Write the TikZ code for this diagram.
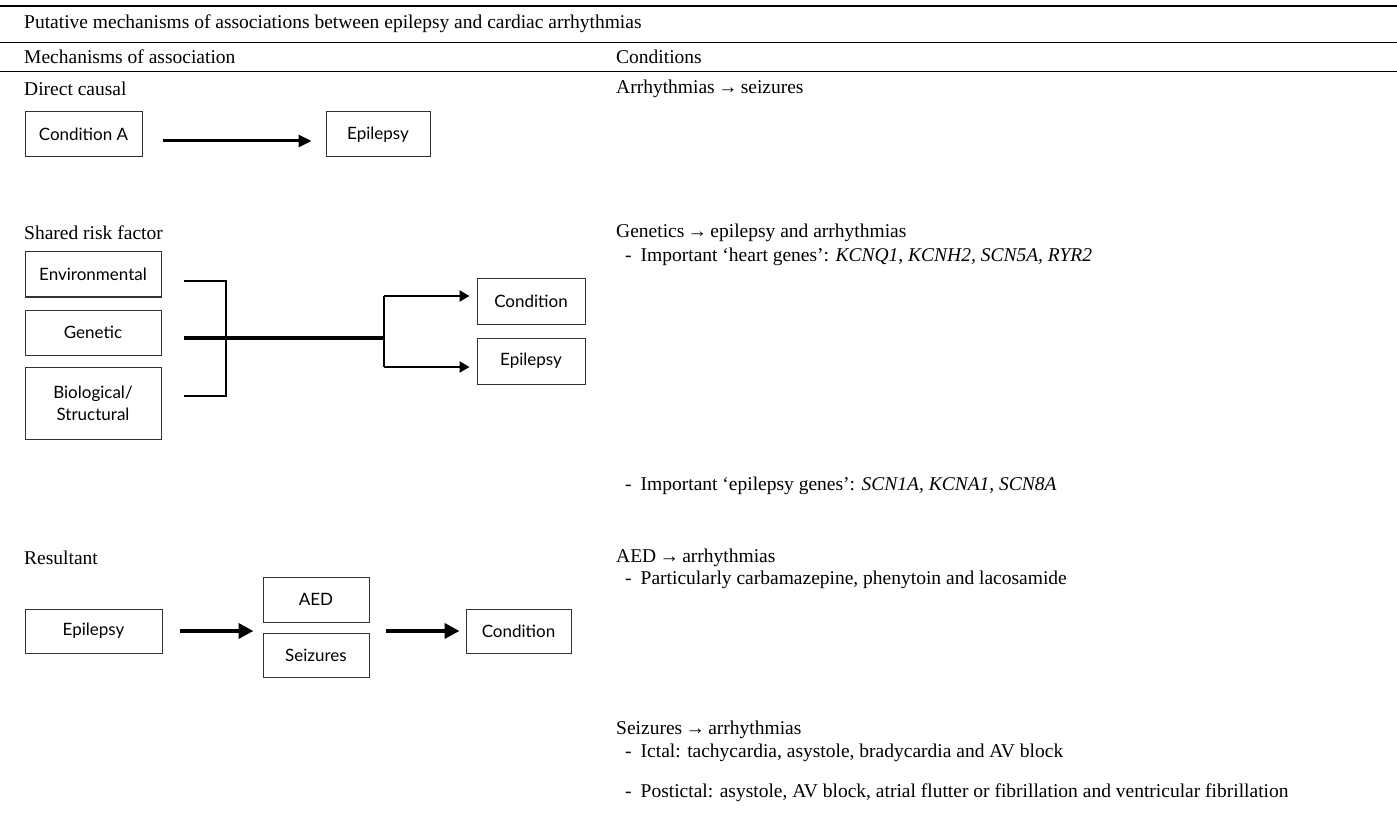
\documentclass[tikz,border=0pt]{standalone}
\usepackage{fontspec}
\setmainfont{Liberation Serif}
\newfontfamily\boxfont{Lato}
\usetikzlibrary{arrows.meta}
\begin{document}
\begin{tikzpicture}[x=1pt,y=-1pt,
  txt/.style={anchor=west,inner sep=0pt,font=\fontsize{19.5}{22}\selectfont},
  box/.style={draw=black!80,line width=1pt,inner sep=0pt,align=center,font=\boxfont\fontsize{17}{22}\selectfont},
  rule/.style={line width=1.4pt},
  arrA/.style={line width=3pt,-{Triangle[length=13pt,width=12pt]}},
  arrB/.style={line width=4pt,-{Triangle[length=15pt,width=15pt]}},
  arrC/.style={line width=2.4pt,-{Triangle[length=10pt,width=11pt]}},
  brk/.style={line width=2.7pt},
  trunk/.style={line width=4pt}]
\useasboundingbox (0,0) rectangle (1397,826);
\fill[white] (0,0) rectangle (1397,826);
% rules
\draw[line width=2pt] (0,6) -- (1397,6);
\draw[rule] (0,42.5) -- (1397,42.5);
\draw[rule] (0,71.5) -- (1397,71.5);
% header texts
\node[txt] (title) at (24,24) {Putative mechanisms of associations between epilepsy and cardiac arrhythmias};
\node[txt] (hmech) at (24,57) {Mechanisms of association};
\node[txt] (hcond) at (616,57) {Conditions};
% left labels
\node[txt] (ldirect) at (24,89) {Direct causal};
\node[txt] (lshared) at (24,233) {Shared risk factor};
\node[txt] (lresult) at (24,558) {Resultant};
% right column
\node[txt] (r1) at (616,89) {Arrhythmias\,→\,seizures};
\node[txt] (r2) at (616,233) {Genetics\,→\,epilepsy and arrhythmias};
\node[txt] (r2a) at (625,257) {-\hspace{9pt}Important ‘heart genes’: \textit{KCNQ1, KCNH2, SCN5A, RYR2}};
\node[txt] (r2b) at (625,486) {-\hspace{9pt}Important ‘epilepsy genes’: \textit{SCN1A, KCNA1, SCN8A}};
\node[txt] (r3) at (616,558) {AED\,→\,arrhythmias};
\node[txt] (r3a) at (625,580) {-\hspace{9pt}Particularly carbamazepine, phenytoin and lacosamide};
\node[txt] (r4) at (616,730) {Seizures\,→\,arrhythmias};
\node[txt] (r4a) at (625,753) {-\hspace{9pt}Ictal: tachycardia, asystole, bradycardia and AV block};
\node[txt] (r4b) at (625,793) {-\hspace{9pt}Postictal: asystole, AV block, atrial flutter or fibrillation and ventricular fibrillation};
% direct causal
\node[box,minimum width=117pt,minimum height=45pt] (ca) at (83.5,134.5) {Condition A};
\node[box,minimum width=104pt,minimum height=45pt] (ep1) at (378,134.5) {Epilepsy};
\draw[arrA] ([xshift=20pt,yshift=-6.5pt]ca.east) -- ([xshift=-14pt,yshift=-6.5pt]ep1.west);
% shared risk factor
\node[box,minimum width=136pt,minimum height=45pt] (env) at (93,274.5) {Environmental};
\node[box,minimum width=136pt,minimum height=45pt] (gen) at (93,332.5) {Genetic};
\node[box,minimum width=136pt,minimum height=72pt] (bio) at (93,403) {Biological/\\Structural};
\node[box,minimum width=108pt,minimum height=45pt] (cond2) at (531,301.5) {Condition};
\node[box,minimum width=108pt,minimum height=46pt] (ep2) at (531,361) {Epilepsy};
\coordinate (b1) at (184,281);
\coordinate (b2) at (184,338);
\coordinate (b3) at (184,396);
\coordinate (bt) at (226,281);
\coordinate (bb) at (226,396);
\coordinate (split) at (384,338);
\coordinate (su) at (384,296);
\coordinate (sd) at (384,367);
\draw[brk] (b1) -- (bt) -- (bb) -- (b3);
\draw[trunk] (b2) -- (split);
\draw[brk] (su) -- (sd);
\draw[arrC] (su) -- ([xshift=-7pt]cond2.west |- su);
\draw[arrC] (sd) -- ([xshift=-7pt]ep2.west |- sd);
% resultant
\node[box,minimum width=137pt,minimum height=44pt] (ep3) at (93.5,631) {Epilepsy};
\node[box,minimum width=106pt,minimum height=45pt] (aed) at (316,599.5) {AED};
\node[box,minimum width=106pt,minimum height=44pt] (sz) at (316,655) {Seizures};
\node[box,minimum width=105pt,minimum height=44pt] (cond3) at (518.5,631) {Condition};
\coordinate (mid) at (316,631);
\draw[arrB] ([xshift=17pt]ep3.east) -- ([xshift=-9pt]aed.west |- mid);
\draw[arrB] ([xshift=16pt]aed.east |- mid) -- ([xshift=-6pt]cond3.west);
\end{tikzpicture}
\end{document}
